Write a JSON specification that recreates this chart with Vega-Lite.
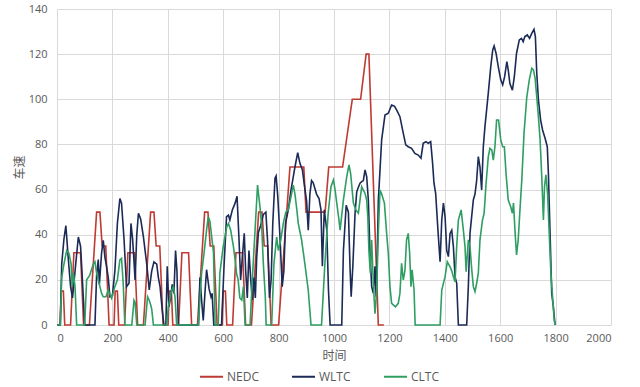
{
  "$schema": "https://vega.github.io/schema/vega-lite/v6.json",
  "width": 554,
  "height": 316,
  "autosize": {"type": "none"},
  "padding": {"left": 57, "top": 9, "right": 29, "bottom": 62},
  "background": "white",
  "config": {"view": {"stroke": null}, "font": "Noto Sans CJK SC"},
  "datasets": {
    "NEDC": [[0,0],[11,0],[15,15],[23,15],[28,0],[49,0],[61,32],[85,32],[96,0],[117,0],[143,50],[155,50],[163,35],[176,35],[188,0],[195,0],
      [206,0],[210,15],[218,15],[223,0],[244,0],[256,32],[280,32],[291,0],[312,0],[338,50],[350,50],[358,35],[371,35],[383,0],[390,0],
      [401,0],[405,15],[413,15],[418,0],[439,0],[451,32],[475,32],[486,0],[507,0],[533,50],[545,50],[553,35],[566,35],[578,0],[585,0],
      [596,0],[600,15],[608,15],[613,0],[634,0],[646,32],[670,32],[681,0],[702,0],[728,50],[740,50],[748,35],[761,35],[773,0],[780,0],
      [800,0],[841,70],[891,70],[899,50],[968,50],[981,70],[1031,70],[1066,100],[1096,100],[1116,120],[1126,120],[1160,0],[1180,0]],
    "WLTC": [[0,0],[12,0],[17,27],[25,38],[32,44],[41,29],[49,17],[56,12],[66,25],[77,39],[85,35],[90,24],[96,10],[100,0],[137,0],[143,22],[149,29],[153,18],[161,32],[167,37.5],[173,30],[179,26],[185,21],[191,12.5],[200,13],[209,24],[218,45],[227,56],[233,54],[242,38],[251,17],[260,18.5],[267,45],[273,38],[282,20],[288,40],[294,49.5],[302,47],[312,39],[324,27],[333,15.5],[342,24],[350,28],[360,27],[366,21],[372,17],[380,6.6],[386,0],[393,0],[398,26],[404,8],[410,12],[416,18],[422,14],[428,33],[433,24],[438,0],[511,0],[516,21],[522,11],[528,2],[534,14],[540,24.5],[549,16],[556,12.5],[560,14],[566,0],[594,0],[603,26],[612,48],[619,48.7],[624,46.5],[633,51],[643,54],[650,57],[657,38],[663,20],[669,30],[676,40.6],[681,24.4],[687,12],[693,33],[699,21],[705,11],[711,21],[716,12],[721,30],[727,41],[735,44],[745,49],[754,50],[760,37.7],[767,12],[773,20],[779,45],[787,65],[791,66],[797,57],[805,39],[813,17],[819,24],[825,45],[835,51],[845,60],[852,65],[859,70],[869,76.4],[877,71.6],[886,68.7],[893,62],[901,55],[907,42],[913,58],[919,64],[925,63],[937,58],[946,56],[953,51],[958,26],[965,51],[974,42],[980,15.5],[986,0],[1028,0],[1034,33],[1044,53],[1052,50],[1058,25],[1062,12.5],[1068,26],[1076,49.5],[1082,59],[1088,61],[1094,62.8],[1100,63.5],[1106,64],[1112,68.7],[1118,65.7],[1124,55.4],[1130,31.8],[1136,17],[1142,14],[1148,26],[1152,12.5],[1156,30],[1160,55],[1172,82],[1184,93],[1196,93.8],[1208,97.5],[1218,97],[1226,95.3],[1238,92.3],[1250,85],[1259,79.8],[1268,79],[1280,78.3],[1292,76],[1304,75.3],[1314,73.9],[1322,80.5],[1332,81.2],[1340,80.5],[1349,81.2],[1356,71.6],[1361,62.8],[1367,58.3],[1376,40.6],[1383,28],[1389,46.5],[1395,54],[1401,48],[1407,33],[1413,30.3],[1419,40.6],[1425,42],[1431,34.7],[1437,21.4],[1443,18.5],[1449,0],[1479,0],[1485,17],[1491,40.6],[1497,48],[1503,55.4],[1509,58],[1515,64],[1521,74.6],[1527,70],[1533,59.8],[1539,79],[1545,88],[1551,95.3],[1557,102.7],[1566,114.5],[1573,121.9],[1578,123.6],[1585,120.4],[1593,114.5],[1602,108.6],[1609,106.4],[1616,110],[1624,116.7],[1629,113],[1635,107],[1644,104],[1651,110],[1659,120.4],[1669,126.3],[1677,127],[1683,125.5],[1689,127.8],[1698,128.5],[1706,127],[1714,129.2],[1722,131],[1727,127.8],[1732,111.5],[1738,99.7],[1746,90.8],[1753,86.4],[1762,82.7],[1770,79],[1774,67.2],[1780,40.6],[1786,14],[1792,8],[1798,0]],
    "CLTC": [[0,0],[12,0],[17,21],[25,27],[35,33],[43,31.8],[51,27],[55,17],[59,23],[65,17],[71,0],[100,0],[107,20],[118,22],[131,27],[137,28],[143,23],[155,17],[161,14],[167,12.5],[177,12.5],[185,15.5],[197,11.8],[209,17],[218,20],[227,28.8],[233,29.5],[239,18.5],[245,0],[270,0],[278,11],[282,10],[288,0],[318,0],[327,12.5],[333,11],[338,9],[342,7],[348,0],[396,0],[402,8],[414,15.5],[420,17],[426,12.5],[432,0],[510,0],[522,23],[531,32],[540,42],[546,48],[552,46],[565,32],[571,0],[582,0],[588,23],[600,34.7],[613,43.6],[619,45],[627,42],[637,34.7],[645,27],[648,23],[654,20],[660,12],[667,11],[673,17],[679,0],[697,0],[705,20],[715,42],[724,62],[733,52],[739,43.6],[745,27],[752,12.5],[755,0],[775,0],[783,27],[793,39],[799,33],[808,37.7],[817,45],[826,50],[835,51],[845,57],[853,62],[859,58],[865,52],[871,45],[883,37.7],[895,27],[907,15.5],[917,0],[955,0],[967,27],[979,49.5],[989,61.3],[998,64.3],[1004,59.8],[1010,54],[1018,46.5],[1022,42],[1034,55.4],[1046,65.7],[1054,70.9],[1060,67.2],[1070,54],[1079,51],[1088,49.5],[1094,55.4],[1100,61.3],[1106,59.8],[1112,58.3],[1118,55.4],[1122,48],[1126,33],[1131,23],[1136,37.7],[1142,18.5],[1148,5],[1154,15],[1160,40.6],[1166,59.8],[1172,58],[1182,54],[1190,40.6],[1196,31.8],[1202,17],[1208,9.6],[1214,8.9],[1222,8],[1232,9.6],[1238,14],[1244,27.3],[1250,20],[1256,24],[1262,37.7],[1268,40.6],[1273,32],[1278,17],[1282,24.4],[1289,15.5],[1293,0],[1383,0],[1389,15.5],[1401,21.4],[1409,28],[1419,25.8],[1425,24],[1431,21.4],[1437,19.2],[1443,35],[1449,46.5],[1459,51],[1467,42],[1473,34.7],[1477,23.6],[1485,37.7],[1491,34.7],[1497,25],[1503,17],[1509,14.8],[1515,18.5],[1521,23],[1527,37.7],[1536,46.5],[1542,49.5],[1549,62.8],[1557,74.6],[1563,78.3],[1570,77.5],[1575,73],[1581,79],[1587,90.8],[1594,90.8],[1602,82],[1609,79],[1615,79],[1621,67.2],[1629,55.4],[1638,52.4],[1644,49.5],[1648,54],[1654,40.6],[1659,31],[1665,37.7],[1672,52.4],[1678,64.3],[1686,85],[1696,101],[1705,108.6],[1714,113.7],[1720,113],[1726,109.3],[1732,101],[1738,92.3],[1744,82],[1750,65.7],[1756,46.5],[1760,61.3],[1765,66.5],[1771,58.3],[1777,40.6],[1783,23],[1789,12.5],[1795,2.2],[1798,0]]
  },
  "encoding": {
    "x": {
      "field": "t", "type": "quantitative",
      "scale": {"domain": [0, 2000], "nice": false},
      "axis": {"title": "时间", "format": "d", "values": [0,200,400,600,800,1000,1200,1400,1600,1800,2000], "grid": true, "gridColor": "#d9d9d9", "domain": false, "ticks": false, "labelColor": "#595959", "labelFont": "Open Sans", "labelFontSize": 11, "labelPadding": 7, "titleColor": "#595959", "titleFontSize": 12, "titleFontWeight": "normal", "titlePadding": 7}
    },
    "y": {
      "field": "v", "type": "quantitative",
      "scale": {"domain": [0, 140], "nice": false},
      "axis": {"title": "车速", "format": "d", "values": [0,20,40,60,80,100,120,140], "grid": true, "gridColor": "#d9d9d9", "domain": false, "ticks": false, "labelColor": "#595959", "labelFont": "Open Sans", "labelFontSize": 11, "labelPadding": 10, "titleColor": "#595959", "titleFontSize": 12, "titleFontWeight": "normal", "titlePadding": 2}
    },
    "color": {
      "field": "s", "type": "nominal",
      "scale": {"domain": ["NEDC", "WLTC", "CLTC"], "range": ["#bf3a32", "#1b2a56", "#2e9e63"]},
      "legend": {"title": null, "orient": "none", "legendX": 142, "legendY": 355, "direction": "horizontal", "symbolType": "stroke", "symbolSize": 529, "symbolStrokeWidth": 2, "labelFont": "Open Sans", "labelFontSize": 12, "labelColor": "#595959", "labelOffset": 3, "columnPadding": 29}
    }
  },
  "layer": [
    {"data": {"name": "NEDC"}, "transform": [{"calculate": "'NEDC'", "as": "s"}, {"calculate": "datum[0]", "as": "t"}, {"calculate": "datum[1]", "as": "v"}], "mark": {"type": "line", "strokeWidth": 1.6}},
    {"data": {"name": "WLTC"}, "transform": [{"calculate": "'WLTC'", "as": "s"}, {"calculate": "datum[0]", "as": "t"}, {"calculate": "datum[1]", "as": "v"}], "mark": {"type": "line", "strokeWidth": 1.6}},
    {"data": {"name": "CLTC"}, "transform": [{"calculate": "'CLTC'", "as": "s"}, {"calculate": "datum[0]", "as": "t"}, {"calculate": "datum[1]", "as": "v"}], "mark": {"type": "line", "strokeWidth": 1.6}}
  ]
}
